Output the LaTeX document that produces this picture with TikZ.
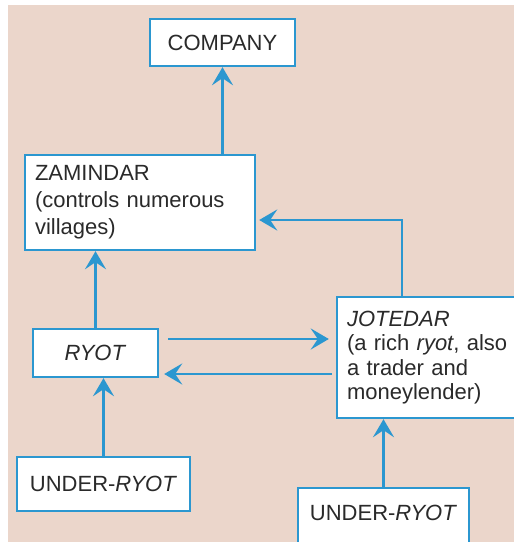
\documentclass[tikz,border=0pt]{standalone}
\usepackage{fontspec}
\setmainfont{Liberation Sans}
\usepackage{tikz}
\usetikzlibrary{arrows.meta,calc}

\definecolor{bgpink}{HTML}{EBD6CB}
\definecolor{linkblue}{HTML}{2B97D0}
\definecolor{inkgray}{HTML}{2A2A2A}

\begin{document}
\begin{tikzpicture}[
  x=1pt, y=-1pt,
  font=\fontsize{22}{27}\selectfont, text=inkgray,
  >={Stealth[length=18pt,width=21pt,inset=7pt]},
  classbox/.style={draw=linkblue, fill=white, line width=2.4pt, inner sep=0pt},
  notebox/.style={classbox, align=left, inner xsep=10pt},
  flow/.style={->, draw=linkblue, line width=2.6pt}
]
  \useasboundingbox (0,0) rectangle (514,542);
  \fill[white] (0,0) rectangle (514,542);
  \fill[bgpink] (8,5) rectangle (514,542);

  \begin{scope}
  \clip (0,0) rectangle (514,542);
  \node[classbox, minimum width=145pt, minimum height=47pt] (company) at (222.5,42.5) {COMPANY};
  \node[notebox, text width=210pt, minimum height=95pt] (zamindar) at (140,202.5)
    {ZAMINDAR\\(controls numerous\\villages)};
  \node[classbox, minimum width=125pt, minimum height=48pt] (ryot) at (95.5,353) {\textit{RYOT}};
  \node[notebox, text width=168pt, minimum height=121pt,
        font=\fontsize{22}{24.5}\selectfont] (jotedar) at (431,357.5)
    {\textit{JOTEDAR}\\(a rich \textit{ryot}, also\\a trader and\\moneylender)};
  \node[classbox, minimum width=173pt, minimum height=54pt] (underA) at (103.5,484) {UNDER-\textit{RYOT}};
  \node[classbox, minimum width=171pt, text height=32pt, text depth=30pt, anchor=base]
    (underB) at (383.5,520) {UNDER-\textit{RYOT}};

  \draw[flow] (company.south |- zamindar.north) -- (company.south);
  \draw[flow] (ryot.north) -- (ryot.north |- zamindar.south);
  \draw[flow] (underA.north) -- (underA.north |- ryot.south);
  \draw[flow] (underB.north) -- (underB.north |- jotedar.south);
  \draw[flow, shorten >=3pt] ([xshift=66pt]jotedar.north west) |- ([yshift=-17.5pt]zamindar.east);
  \draw[flow, shorten <=9pt, shorten >=7pt] ([yshift=14pt]ryot.east) -- ([yshift=14pt]ryot.east -| jotedar.west);
  \draw[flow, shorten <=4pt, shorten >=5pt] ([yshift=-21pt]ryot.east -| jotedar.west) -- ([yshift=-21pt]ryot.east);
  \end{scope}
\end{tikzpicture}
\end{document}
